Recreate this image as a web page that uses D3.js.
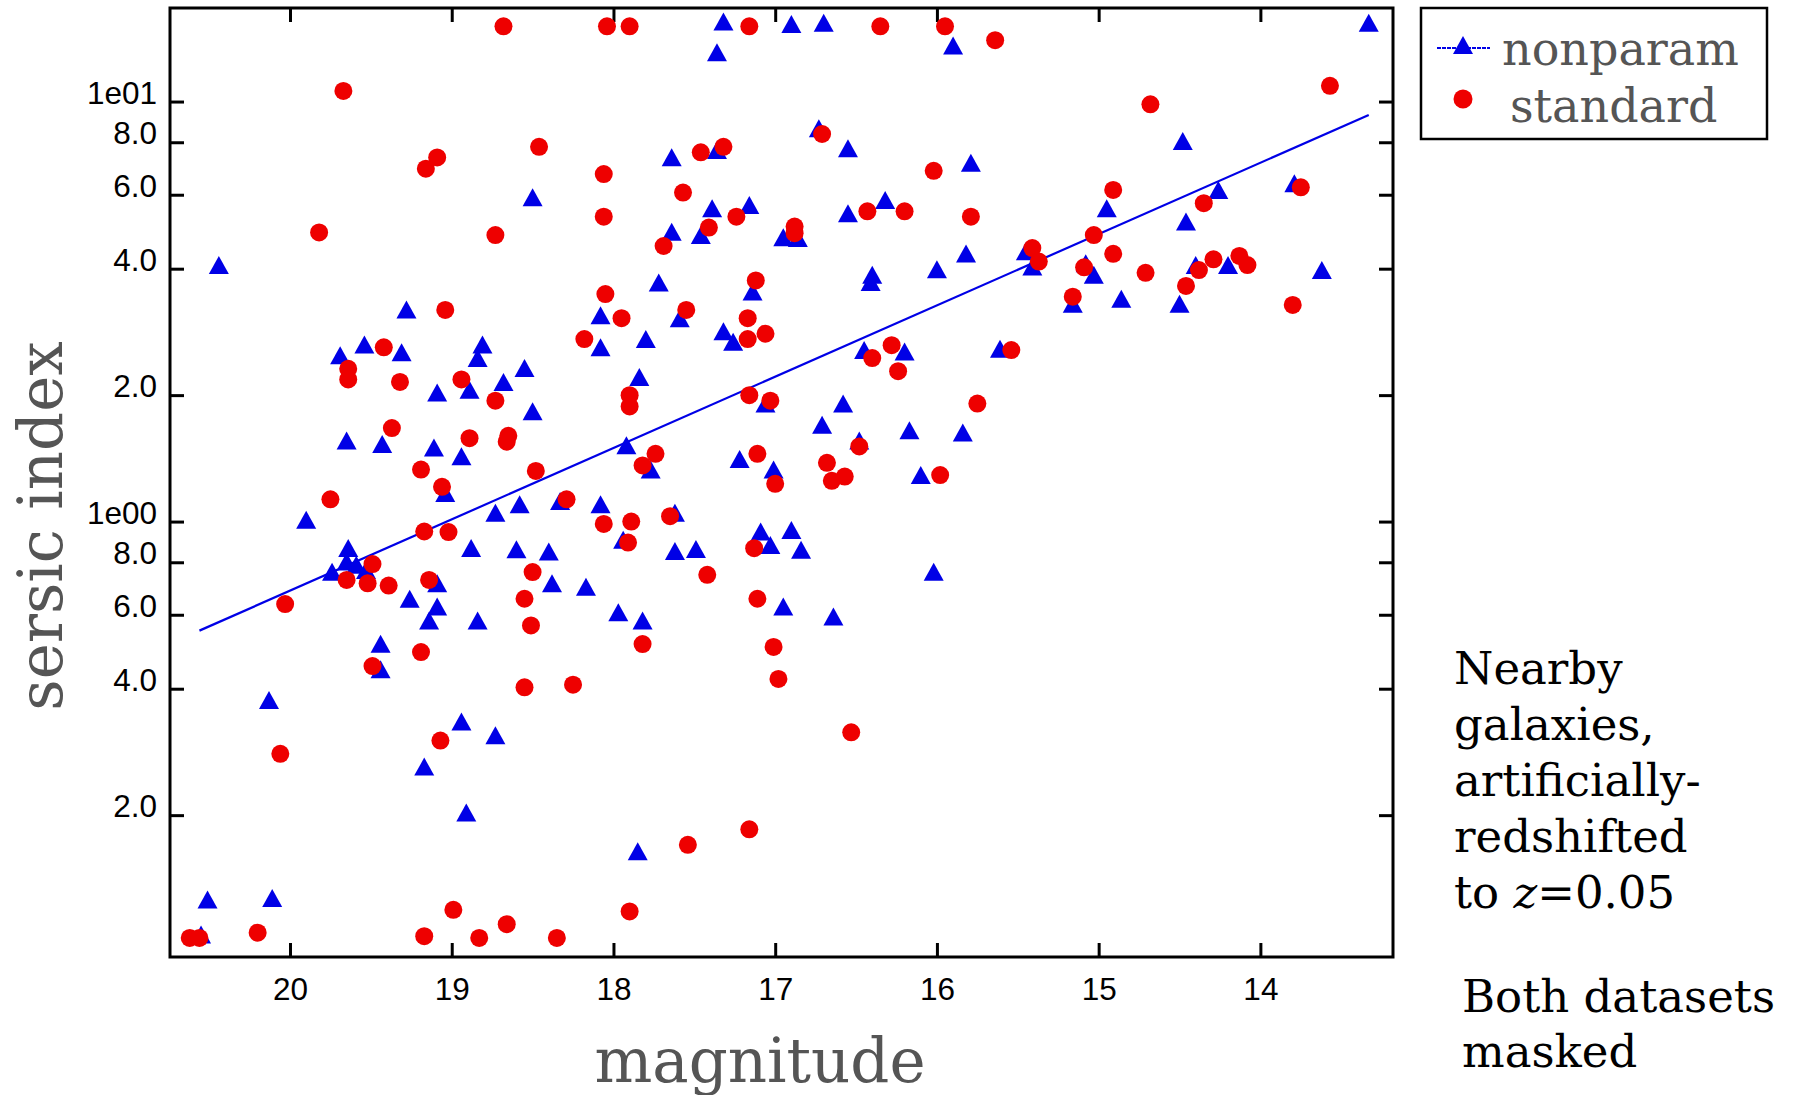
<!DOCTYPE html>
<html>
<head>
<meta charset="utf-8">
<script src="https://cdn.jsdelivr.net/npm/d3@7"></script>
<style>
  body { margin: 0; background: #fff; }
  svg { display: block; }
</style>
</head>
<body>
<div id="chart"></div>
<script>
// nonparam (blue triangles): magnitude and sersic index
var nonparamMag = [17.32,16.90,17.36,20.44,18.50,17.64,17.36,17.39,17.16,17.64,17.46,16.95,17.72,17.14,19.28,18.08,17.59,17.32,17.26,17.80,
  18.08,19.54,19.69,19.31,18.81,18.84,18.55,18.68,19.09,18.89,18.50,17.84,17.06,19.65,19.43,19.11,18.94,17.92,17.22,17.01,17.77,
  16.70,15.90,13.33,16.73,16.55,15.79,14.48,16.32,16.55,14.95,14.26,13.79,14.46,16.86,15.82,15.45,15.41,16.40,16.41,16.00,15.08,
  15.03,14.40,14.20,13.62,15.16,14.86,14.50,16.45,16.20,15.61,16.58,16.71,16.17,15.84,16.48,
  19.04,19.90,18.73,18.58,18.33,18.08,17.62,17.94,17.09,17.03,16.90,19.64,19.65,19.59,19.74,19.53,18.88,18.60,18.40,17.62,17.49,
  19.09,18.38,18.17,19.26,19.09,19.14,18.84,17.97,17.82,16.95,19.44,19.44,20.13,18.94,18.73,19.17,18.91,17.85,20.51,20.11,20.55,
  16.10,16.84,16.02,16.64];
var nonparamSersic = [15.5,15.3,13.1,4.08,5.92,7.37,7.67,5.57,5.67,4.90,4.81,4.75,3.71,3.53,3.20,3.10,3.05,2.84,2.68,2.72,
  2.60,2.64,2.49,2.53,2.64,2.45,2.32,2.15,2.03,2.06,1.83,2.21,1.91,1.56,1.53,1.50,1.43,1.52,1.41,1.33,1.33,
  15.4,13.6,15.4,8.64,7.74,7.15,8.06,5.83,5.42,5.57,6.16,6.39,5.18,4.73,4.35,4.40,4.05,3.87,3.72,3.99,4.12,
  3.87,4.08,4.08,3.97,3.30,3.39,3.30,2.56,2.54,2.58,1.91,1.70,1.65,1.63,1.56,
  1.17,1.01,1.05,1.10,1.12,1.10,1.05,0.905,0.947,0.880,0.955,0.865,0.803,0.789,0.760,0.767,0.865,0.859,0.849,0.851,0.86,
  0.713,0.713,0.700,0.655,0.628,0.581,0.581,0.608,0.581,0.628,0.512,0.445,0.376,0.334,0.310,0.261,0.203,0.164,0.126,0.127,0.104,
  1.29,0.857,0.760,0.594];

// standard (red circles)
var standardMag = [18.68,18.04,17.90,17.16,19.67,19.09,19.16,18.46,18.06,17.57,17.46,17.32,18.06,17.24,17.41,19.82,18.73,17.69,17.12,18.05,
  19.04,17.55,17.95,17.17,18.18,17.17,17.06,19.42,19.64,19.64,19.32,18.94,18.73,17.90,17.90,17.16,17.03,19.37,18.89,18.65,18.66,
  17.74,17.82,17.11,19.19,18.48,
  16.35,15.95,15.64,13.57,14.68,16.71,16.02,14.91,13.75,14.35,16.43,16.20,15.79,16.88,16.88,15.03,15.41,15.37,14.91,15.09,14.71,
  14.29,14.13,14.08,14.38,14.46,15.16,13.80,16.28,16.40,16.24,15.54,15.75,16.48,16.68,
  19.06,17.00,19.75,18.29,18.06,17.89,17.65,19.17,19.02,17.91,17.13,19.49,19.65,19.52,19.39,19.14,18.50,18.55,17.42,20.03,18.51,
  17.11,19.19,17.82,17.01,19.49,18.55,18.25,16.98,19.07,20.06,17.16,17.54,18.99,17.90,18.66,20.20,19.17,18.83,18.35,20.62,20.56,
  16.65,16.57,15.98,16.53];
var standardSersic = [15.1,15.1,15.1,15.1,10.6,7.36,6.92,7.80,6.72,6.07,7.57,7.80,5.32,5.32,5.01,4.88,4.81,4.53,3.75,3.48,
  3.19,3.19,3.05,3.05,2.72,2.72,2.80,2.60,2.31,2.18,2.15,2.18,1.94,2.00,1.88,2.00,1.94,1.67,1.58,1.60,1.55,
  1.45,1.36,1.45,1.33,1.32,
  15.1,15.1,14.0,10.9,9.85,8.37,6.84,6.16,6.25,5.73,5.48,5.48,5.32,5.04,4.86,4.81,4.48,4.16,4.34,4.03,3.91,
  4.21,4.29,4.08,3.97,3.64,3.43,3.28,2.63,2.45,2.28,2.56,1.91,1.51,1.38,
  1.21,1.23,1.13,1.13,0.987,1.00,1.03,0.947,0.944,0.891,0.864,0.792,0.726,0.713,0.704,0.726,0.758,0.655,0.747,0.636,0.566,
  0.655,0.489,0.511,0.503,0.453,0.403,0.409,0.422,0.301,0.280,0.185,0.170,0.119,0.118,0.110,0.105,0.103,0.102,0.102,0.102,0.102,
  1.25,1.28,1.29,0.315];

// fitted relation for nonparam (end points)
var fitMag = [20.56, 13.33];
var fitSersic = [0.55, 9.29];

var xTicks = [20, 19, 18, 17, 16, 15, 14];
var yTicks = [10, 8, 6, 4, 2, 1, 0.8, 0.6, 0.4, 0.2];
var yTickLabels = ["1e01", "8.0", "6.0", "4.0", "2.0", "1e00", "8.0", "6.0", "4.0", "2.0"];
var noteLines = ["Nearby", "galaxies,", "artificially-", "redshifted"];
var noteLines2 = ["Both datasets", "masked"];

var W = 1798, H = 1095,
    plotL = 170, plotR = 1393, plotT = 8, plotB = 957,
    blue = "#0000e6", red = "#ee0000",
    serif = "'DejaVu Serif', serif",
    sans = "'Liberation Sans', Arial, sans-serif";

var svg = d3.select("#chart").append("svg")
    .attr("width", W)
    .attr("height", H);

var x = d3.scaleLinear().domain([20.742, 13.18]).range([plotL, plotR]);
var y = d3.scaleLog().domain([16.7, 0.0919]).range([plotT, plotB]);

function styleAxis(g) {
    g.select(".domain").remove();
    g.selectAll(".tick line").attr("stroke", "#000").attr("stroke-width", 3);
    g.selectAll(".tick text").attr("fill", "#000").style("font-family", sans).style("font-size", "31.5px");
}

svg.append("g")
    .attr("transform", "translate(0," + plotB + ")")
    .call(d3.axisBottom(x).tickValues(xTicks).tickFormat(d3.format("d"))
        .tickSizeInner(-14).tickSizeOuter(0).tickPadding(21))
    .call(styleAxis);

svg.append("g")
    .attr("transform", "translate(0," + plotT + ")")
    .call(d3.axisTop(x).tickValues(xTicks).tickFormat("").tickSizeInner(-14).tickSizeOuter(0))
    .call(styleAxis);

svg.append("g")
    .attr("transform", "translate(" + plotL + ",0)")
    .call(d3.axisLeft(y).tickValues(yTicks).tickFormat(function(d, i) { return yTickLabels[i]; })
        .tickSizeInner(-14).tickSizeOuter(0).tickPadding(13))
    .call(styleAxis)
    .selectAll(".tick text").attr("dy", "0.05em");

svg.append("g")
    .attr("transform", "translate(" + plotR + ",0)")
    .call(d3.axisRight(y).tickValues(yTicks).tickFormat("").tickSizeInner(-14).tickSizeOuter(0))
    .call(styleAxis);

svg.append("rect")
    .attr("x", plotL).attr("y", plotT)
    .attr("width", plotR - plotL).attr("height", plotB - plotT)
    .attr("fill", "none").attr("stroke", "#000").attr("stroke-width", 3);

var tri = "M0,-9L10,9L-10,9Z";

var blueData = nonparamMag.map(function(m, i) { return [m, nonparamSersic[i]]; });
var redData = standardMag.map(function(m, i) { return [m, standardSersic[i]]; });

svg.append("g").selectAll("path")
    .data(blueData)
    .enter().append("path")
    .attr("d", tri)
    .attr("fill", blue)
    .attr("transform", function(d) { return "translate(" + x(d[0]) + "," + y(d[1]) + ")"; });

svg.append("path")
    .datum(fitMag.map(function(m, i) { return [m, fitSersic[i]]; }))
    .attr("fill", "none")
    .attr("stroke", blue)
    .attr("stroke-width", 2.2)
    .attr("d", d3.line().x(function(d) { return x(d[0]); }).y(function(d) { return y(d[1]); }));

svg.append("g").selectAll("circle")
    .data(redData)
    .enter().append("circle")
    .attr("cx", function(d) { return x(d[0]); })
    .attr("cy", function(d) { return y(d[1]); })
    .attr("r", 9)
    .attr("fill", red);

// axis titles
svg.append("text")
    .attr("x", 760).attr("y", 1082)
    .attr("text-anchor", "middle")
    .style("font-family", serif).style("font-size", "61px").attr("fill", "#555")
    .text("magnitude");

svg.append("text")
    .attr("transform", "translate(62,526) rotate(-90)")
    .attr("text-anchor", "middle")
    .style("font-family", serif).style("font-size", "61px").attr("fill", "#555")
    .text("sersic index");

// legend
var lg = svg.append("g");
lg.append("rect")
    .attr("x", 1421).attr("y", 8).attr("width", 346).attr("height", 131)
    .attr("fill", "#fff").attr("stroke", "#000").attr("stroke-width", 2.5);
lg.append("line")
    .attr("x1", 1437).attr("x2", 1490).attr("y1", 48).attr("y2", 48)
    .attr("stroke", blue).attr("stroke-width", 2.2).attr("stroke-dasharray", "4,1");
lg.append("path").attr("d", tri).attr("fill", blue).attr("transform", "translate(1463,45)");
lg.append("circle").attr("cx", 1463).attr("cy", 99).attr("r", 9.5).attr("fill", red);
lg.append("text").attr("x", 1502).attr("y", 65)
    .style("font-family", serif).style("font-size", "46px").attr("fill", "#555").text("nonparam");
lg.append("text").attr("x", 1510).attr("y", 122)
    .style("font-family", serif).style("font-size", "46px").attr("fill", "#555").text("standard");

// notes
var note = svg.append("text")
    .style("font-family", serif).style("font-size", "45px").attr("fill", "#000");
noteLines.forEach(function(t, i) {
    note.append("tspan").attr("x", 1454).attr("y", 684 + i * 56).text(t);
});
var last = note.append("tspan").attr("x", 1454).attr("y", 684 + 4 * 56);
last.append("tspan").text("to ");
last.append("tspan").style("font-style", "italic").text("z");
last.append("tspan").text("=0.05");

var note2 = svg.append("text")
    .style("font-family", serif).style("font-size", "45px").attr("fill", "#000");
noteLines2.forEach(function(t, i) {
    note2.append("tspan").attr("x", 1462).attr("y", 1012 + i * 55).text(t);
});
</script>
</body>
</html>
